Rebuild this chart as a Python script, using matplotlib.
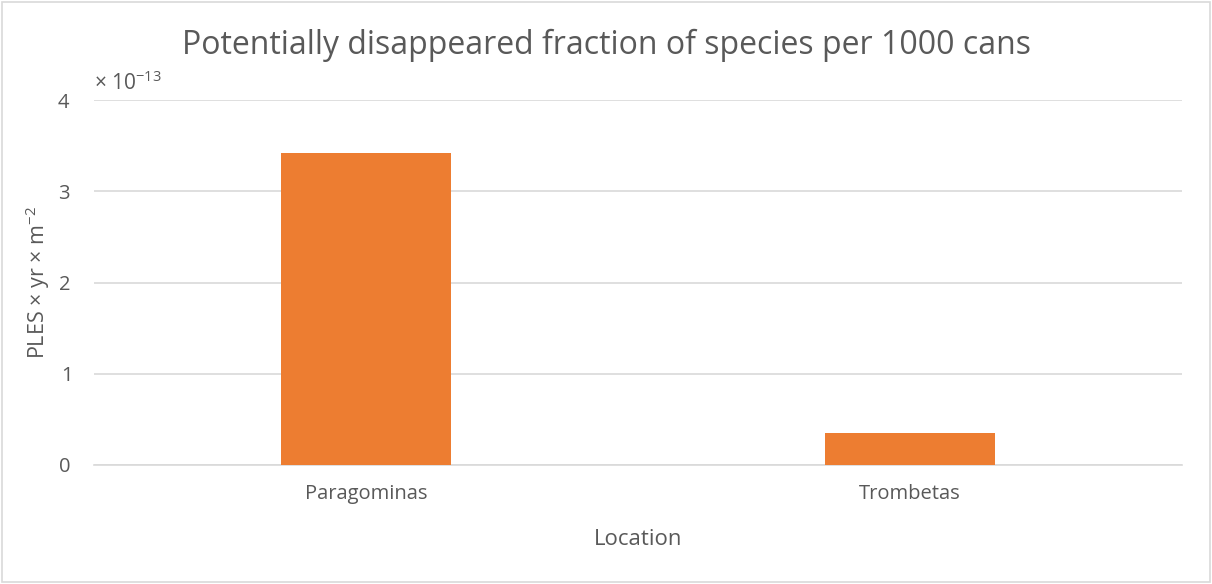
import matplotlib
matplotlib.use("Agg")
import matplotlib.pyplot as plt
from matplotlib.ticker import ScalarFormatter, MultipleLocator
from matplotlib.patches import Rectangle

locations = ["Paragominas", "Trombetas"]
ples_values = [3.42e-13, 0.355e-13]

plt.rcParams["font.family"] = ["Open Sans", "DejaVu Sans"]
plt.rcParams["mathtext.fontset"] = "custom"
plt.rcParams["mathtext.rm"] = "Open Sans"
plt.rcParams["mathtext.it"] = "Open Sans:italic"
plt.rcParams["mathtext.bf"] = "Open Sans:bold"
text_color = "#595959"
grid_color = "#d9d9d9"
bar_color = "#ed7d31"

fig = plt.figure(figsize=(12.12, 5.84), dpi=100)
ax = fig.add_axes([94 / 1212, 1 - 465 / 584, (1182 - 94) / 1212, (465 - 100) / 584])

x = list(range(len(locations)))
ax.bar(x, ples_values, width=0.314, color=bar_color, zorder=3)

ax.set_xlim(-0.5, len(locations) - 0.5)
ax.set_ylim(0, 4e-13)
ax.yaxis.set_major_locator(MultipleLocator(1e-13))
fmt = ScalarFormatter(useMathText=True)
fmt.set_powerlimits((0, 0))
ax.yaxis.set_major_formatter(fmt)
ax.yaxis.get_offset_text().set_visible(False)

ax.set_xticks(x)
ax.set_xticklabels(locations)
ax.tick_params(axis="both", length=0, labelsize=14.5, colors=text_color)
ax.tick_params(axis="y", pad=17)
ax.tick_params(axis="x", pad=14)

ax.grid(axis="y", color=grid_color, linewidth=1.2, zorder=0)
for side in ["left", "right", "top"]:
    ax.spines[side].set_visible(False)
ax.spines["bottom"].set_color(grid_color)
ax.spines["bottom"].set_linewidth(1.2)

ax.text(0.0, 1.015, r"× 10$^{-13}$", transform=ax.transAxes, fontsize=15,
        color=text_color, ha="left", va="bottom")

ax.set_xlabel("Location", fontsize=16, color=text_color, labelpad=18)
ax.set_ylabel(r"PLES × yr × m$^{-2}$", fontsize=15.5, color=text_color, labelpad=4)

fig.suptitle("Potentially disappeared fraction of species per 1000 cans",
             fontsize=23, color=text_color, y=1 - 45 / 584, va="center")

fig.patches.append(Rectangle((0.002, 0.003), 0.996, 0.994, transform=fig.transFigure,
                             fill=False, edgecolor=grid_color, linewidth=1.2))

fig.savefig("out.png", dpi=100, facecolor="white")
